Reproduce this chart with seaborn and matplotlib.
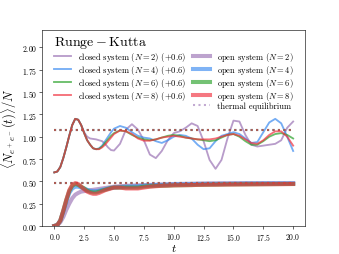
import numpy as np
import pandas as pd
import seaborn as sns
import matplotlib
matplotlib.use("Agg")
import matplotlib.pyplot as plt
from matplotlib.lines import Line2D

plt.rcParams['font.family'] = 'serif'
plt.rcParams['font.serif'] = ['cmr10']
plt.rcParams['mathtext.fontset'] = 'cm'
plt.rcParams['axes.formatter.use_mathtext'] = True

# sample times: finer at the start where things move fast
t = np.concatenate([np.arange(0, 5.01, 0.25), np.arange(5.5, 20.01, 0.5)])

sizes = [2, 4, 6, 8]
colors = ['#9a72b4', '#3a8af0', '#2aa22a', '#f1303e']
shift = 0.6

# closed system, raw values (drawn with +0.6)
closed_n2 = [0.00, 0.01, 0.06, 0.16, 0.28, 0.41, 0.53, 0.60, 0.59, 0.53,
             0.45, 0.40, 0.38, 0.375, 0.37, 0.36, 0.35, 0.32, 0.28, 0.25, 0.245,
             0.32, 0.48, 0.54, 0.48, 0.36, 0.20, 0.16, 0.24, 0.36,
             0.44, 0.46, 0.50, 0.55, 0.52, 0.35, 0.14, 0.04, 0.14, 0.38,
             0.58, 0.57, 0.42, 0.31, 0.29, 0.30, 0.31, 0.32, 0.36, 0.50, 0.57]
closed_n4 = [0.00, 0.01, 0.06, 0.16, 0.28, 0.41, 0.53, 0.60, 0.59, 0.53,
             0.44, 0.36, 0.31, 0.27, 0.26, 0.27, 0.30, 0.35, 0.40, 0.45, 0.49,
             0.52, 0.50, 0.45, 0.41, 0.39, 0.38, 0.35, 0.33, 0.36,
             0.40, 0.42, 0.41, 0.38, 0.31, 0.26, 0.27, 0.35, 0.41, 0.43,
             0.45, 0.43, 0.38, 0.33, 0.34, 0.45, 0.56, 0.60, 0.55, 0.40, 0.24]
closed_n6 = [0.00, 0.01, 0.06, 0.16, 0.28, 0.41, 0.53, 0.60, 0.59, 0.53,
             0.44, 0.36, 0.31, 0.27, 0.26, 0.265, 0.29, 0.33, 0.37, 0.41, 0.44,
             0.47, 0.46, 0.42, 0.39, 0.37, 0.36, 0.37, 0.39, 0.41,
             0.42, 0.41, 0.39, 0.38, 0.37, 0.36, 0.35, 0.36, 0.39, 0.42,
             0.43, 0.40, 0.35, 0.31, 0.31, 0.35, 0.40, 0.43, 0.44, 0.42, 0.38]
closed_n8 = [0.00, 0.01, 0.06, 0.16, 0.28, 0.41, 0.53, 0.60, 0.59, 0.53,
             0.44, 0.36, 0.31, 0.27, 0.26, 0.26, 0.28, 0.31, 0.35, 0.39, 0.43,
             0.47, 0.46, 0.43, 0.38, 0.355, 0.355, 0.37, 0.39, 0.40,
             0.41, 0.40, 0.39, 0.38, 0.37, 0.37, 0.37, 0.38, 0.40, 0.42,
             0.43, 0.41, 0.37, 0.33, 0.32, 0.36, 0.42, 0.46, 0.46, 0.40, 0.30]

# open system
open_n2 = [0.00, 0.01, 0.04, 0.10, 0.18, 0.25, 0.31, 0.35, 0.37, 0.385,
           0.39, 0.395, 0.40, 0.405, 0.41, 0.415, 0.42, 0.425, 0.43, 0.435, 0.44,
           0.445, 0.45, 0.452, 0.455, 0.458, 0.46, 0.462, 0.465, 0.467,
           0.47, 0.471, 0.472, 0.473, 0.475, 0.476, 0.477, 0.477, 0.478, 0.478,
           0.479, 0.479, 0.48, 0.48, 0.48, 0.48, 0.48, 0.48, 0.48, 0.48, 0.48]
open_n4 = [0.00, 0.01, 0.06, 0.16, 0.27, 0.37, 0.42, 0.44, 0.44, 0.43,
           0.42, 0.405, 0.395, 0.39, 0.39, 0.395, 0.405, 0.41, 0.42, 0.425, 0.43,
           0.435, 0.44, 0.442, 0.445, 0.45, 0.455, 0.458, 0.46, 0.462,
           0.465, 0.466, 0.467, 0.468, 0.47, 0.47, 0.471, 0.471, 0.472, 0.472,
           0.473, 0.473, 0.474, 0.474, 0.474, 0.475, 0.475, 0.475, 0.475, 0.475, 0.475]
open_n6 = [0.00, 0.01, 0.06, 0.17, 0.29, 0.39, 0.45, 0.47, 0.46, 0.44,
           0.42, 0.395, 0.38, 0.375, 0.375, 0.385, 0.395, 0.405, 0.415, 0.425, 0.43,
           0.43, 0.43, 0.43, 0.43, 0.44, 0.445, 0.448, 0.45, 0.452,
           0.455, 0.456, 0.457, 0.458, 0.46, 0.461, 0.462, 0.463, 0.464, 0.465,
           0.466, 0.466, 0.467, 0.467, 0.468, 0.468, 0.469, 0.469, 0.47, 0.47, 0.47]
open_n8 = [0.00, 0.01, 0.06, 0.17, 0.29, 0.40, 0.46, 0.48, 0.47, 0.44,
           0.41, 0.385, 0.37, 0.36, 0.36, 0.37, 0.385, 0.40, 0.41, 0.42, 0.43,
           0.43, 0.42, 0.42, 0.42, 0.43, 0.44, 0.445, 0.45, 0.452,
           0.455, 0.456, 0.457, 0.458, 0.46, 0.461, 0.462, 0.462, 0.463, 0.464,
           0.464, 0.465, 0.465, 0.466, 0.466, 0.467, 0.467, 0.468, 0.468, 0.469, 0.47]

# thermal equilibrium value per N
thermal = [0.48, 0.48, 0.48, 0.48]

closed = [closed_n2, closed_n4, closed_n6, closed_n8]
opened = [open_n2, open_n4, open_n6, open_n8]

fig, ax = plt.subplots(figsize=(339 / 53, 255 / 53), dpi=53)

h_closed, h_open, h_th = [], [], []
for i, n in enumerate(sizes):
    c = colors[i]
    sns.lineplot(x=t, y=np.array(closed[i]) + shift, color=c, lw=2.5, alpha=0.7, ax=ax)
    h_closed.append(ax.lines[-1])
    sns.lineplot(x=t, y=opened[i], color=c, lw=5.5, alpha=0.65, ax=ax)
    h_open.append(ax.lines[-1])
    for off in [0, shift]:
        sns.lineplot(x=[t[0], t[-1]], y=[thermal[i] + off] * 2, color=c, lw=2.8,
                     ls=':', alpha=0.6, ax=ax)
    h_th.append(ax.lines[-2])

blank = Line2D([], [], alpha=0)
handles = h_closed + [blank] + h_open + [h_th[0]]
labels = [r'closed system ($N=%d$) ($+0.6$)' % n for n in sizes] + [''] + \
         [r'open system ($N=%d$)' % n for n in sizes] + ['thermal equilibrium']
ax.legend(handles, labels, ncol=2, loc='upper center', frameon=False,
          title=r'$\mathrm{Runge} - \mathrm{Kutta}$', title_fontsize=19, fontsize=11.5,
          alignment='left', columnspacing=0.8, labelspacing=0.0,
          borderaxespad=0.1)

ax.set_ylim(0, 2.2)
ax.set_xticks(np.arange(0, 20.1, 2.5))
ax.set_yticks(np.arange(0, 2.01, 0.25))
ax.tick_params(labelsize=10.5)
ax.set_xlabel(r'$t$', fontsize=16, labelpad=0)
ax.set_ylabel(r'$\langle N_{e^+e^-}(t)\rangle/N$', fontsize=17)

fig.savefig('out.png', dpi=53)
